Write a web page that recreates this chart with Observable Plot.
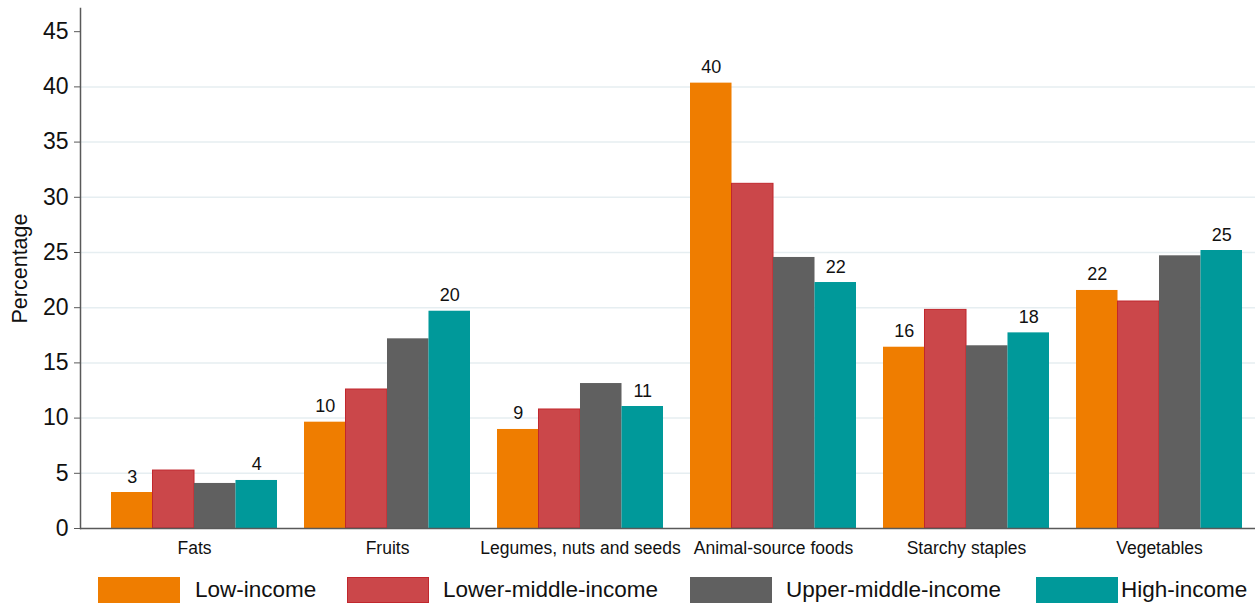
<!DOCTYPE html>
<html>
<head>
<meta charset="utf-8">
<script src="https://cdn.jsdelivr.net/npm/d3@7"></script>
<script src="https://cdn.jsdelivr.net/npm/@observablehq/plot@0.6"></script>
<style>
  html, body { margin: 0; padding: 0; background: #fff; }
  body { font-family: "Liberation Sans", Arial, sans-serif; width: 1259px; }
  #legend { position: relative; height: 37px; width: 1259px; }
  .item { position: absolute; top: 9px; display: flex; align-items: center; height: 26px; }
  .sw { width: 82px; height: 26px; box-sizing: border-box; }
  .lab { font-size: 22.5px; color: #111; white-space: nowrap; position: absolute; top: 0; line-height: 26px; }
</style>
</head>
<body>
<div id="chart"></div>
<div id="legend"></div>
<script>
// ---- data ----
const categories = ["Fats", "Fruits", "Legumes, nuts and seeds", "Animal-source foods", "Starchy staples", "Vegetables"];
const incomes = ["Low-income", "Lower-middle-income", "Upper-middle-income", "High-income"];
const lowIncome         = [3.26, 9.63, 8.97, 40.34, 16.42, 21.56];
const lowerMiddleIncome = [5.25, 12.59, 10.78, 31.22, 19.80, 20.56];
const upperMiddleIncome = [4.08, 17.18, 13.13, 24.55, 16.55, 24.70];
const highIncome        = [4.35, 19.68, 11.05, 22.28, 17.72, 25.18];
const yTicks = [0, 5, 10, 15, 20, 25, 30, 35, 40, 45];
const gridTicks = [5, 10, 15, 20, 25, 30, 35, 40];
const labelledIncomes = ["Low-income", "High-income"];

// ---- styles / layout ----
const colors = ["#EF7D00", "#CB474A", "#606060", "#00999A"];
const strokes = ["none", "#C1272D", "none", "none"];
const L = {width: 1259, height: 568, marginLeft: 80, marginRight: 4, marginTop: 8, marginBottom: 40,
           insetLeft: 31, insetRight: 13, paddingInner: 0.14};
const rangeW = L.width - L.marginLeft - L.marginRight - L.insetLeft - L.insetRight;
const step = rangeW / (categories.length - L.paddingInner);
const band = step * (1 - L.paddingInner);
const barW = band / incomes.length;

const series = [lowIncome, lowerMiddleIncome, upperMiddleIncome, highIncome];
const rows = categories.flatMap((c, i) => incomes.map((inc, j) => ({category: c, income: inc, value: series[j][i]})));

const barMarks = incomes.map((inc, j) => Plot.barY(rows.filter(d => d.income === inc), {
  x: "category", y: "value", fill: "income",
  stroke: strokes[j], strokeWidth: 1,
  insetLeft: j * barW, insetRight: (incomes.length - 1 - j) * barW
}));

const labelMarks = labelledIncomes.map(inc => {
  const j = incomes.indexOf(inc);
  return Plot.text(rows.filter(d => d.income === inc), {
    x: "category", y: "value", text: d => String(Math.round(d.value)),
    dx: (j - (incomes.length - 1) / 2) * barW, dy: -10, lineAnchor: "bottom",
    fontSize: 18, fill: "#111"
  });
});

const chart = Plot.plot({
  width: L.width, height: L.height,
  marginLeft: L.marginLeft, marginRight: L.marginRight, marginTop: L.marginTop, marginBottom: L.marginBottom,
  style: {fontFamily: "'Liberation Sans', Arial, sans-serif", background: "#fff", color: "#111"},
  x: {domain: categories, insetLeft: L.insetLeft, insetRight: L.insetRight, paddingInner: L.paddingInner, paddingOuter: 0, axis: null},
  y: {domain: [0, 47.1], axis: null},
  color: {domain: incomes, range: colors},
  marks: [
    Plot.ruleY(gridTicks, {stroke: "#E6EEF1", strokeWidth: 1.5}),
    ...barMarks,
    ...labelMarks,
    Plot.ruleY([0], {stroke: "#595959", strokeWidth: 1.5}),
    Plot.frame({anchor: "left", stroke: "#595959", strokeWidth: 1.5}),
    Plot.axisY({ticks: yTicks, tickSize: 6, tickPadding: 6, fontSize: 23, label: null, stroke: "#595959"}),
    Plot.axisX({tickSize: 0, tickPadding: 13, fontSize: 17.5, label: null}),
    Plot.text(["Percentage"], {frameAnchor: "left", textAnchor: "middle", rotate: -90, dx: -60, fontSize: 21.5, fill: "#111"})
  ]
});
document.getElementById("chart").appendChild(chart);

// ---- legend ----
const legendPos = [[98, 195], [347, 443], [690, 786], [1036, 1121]];
const legend = document.getElementById("legend");
incomes.forEach((inc, j) => {
  const sw = document.createElement("div");
  sw.className = "item";
  sw.style.left = legendPos[j][0] + "px";
  const box = document.createElement("div");
  box.className = "sw";
  box.style.background = colors[j];
  if (strokes[j] !== "none") box.style.border = "1px solid " + strokes[j];
  sw.appendChild(box);
  legend.appendChild(sw);
  const t = document.createElement("div");
  t.className = "lab";
  t.style.left = legendPos[j][1] + "px";
  t.style.top = "9px";
  t.textContent = inc;
  legend.appendChild(t);
});
</script>
</body>
</html>
